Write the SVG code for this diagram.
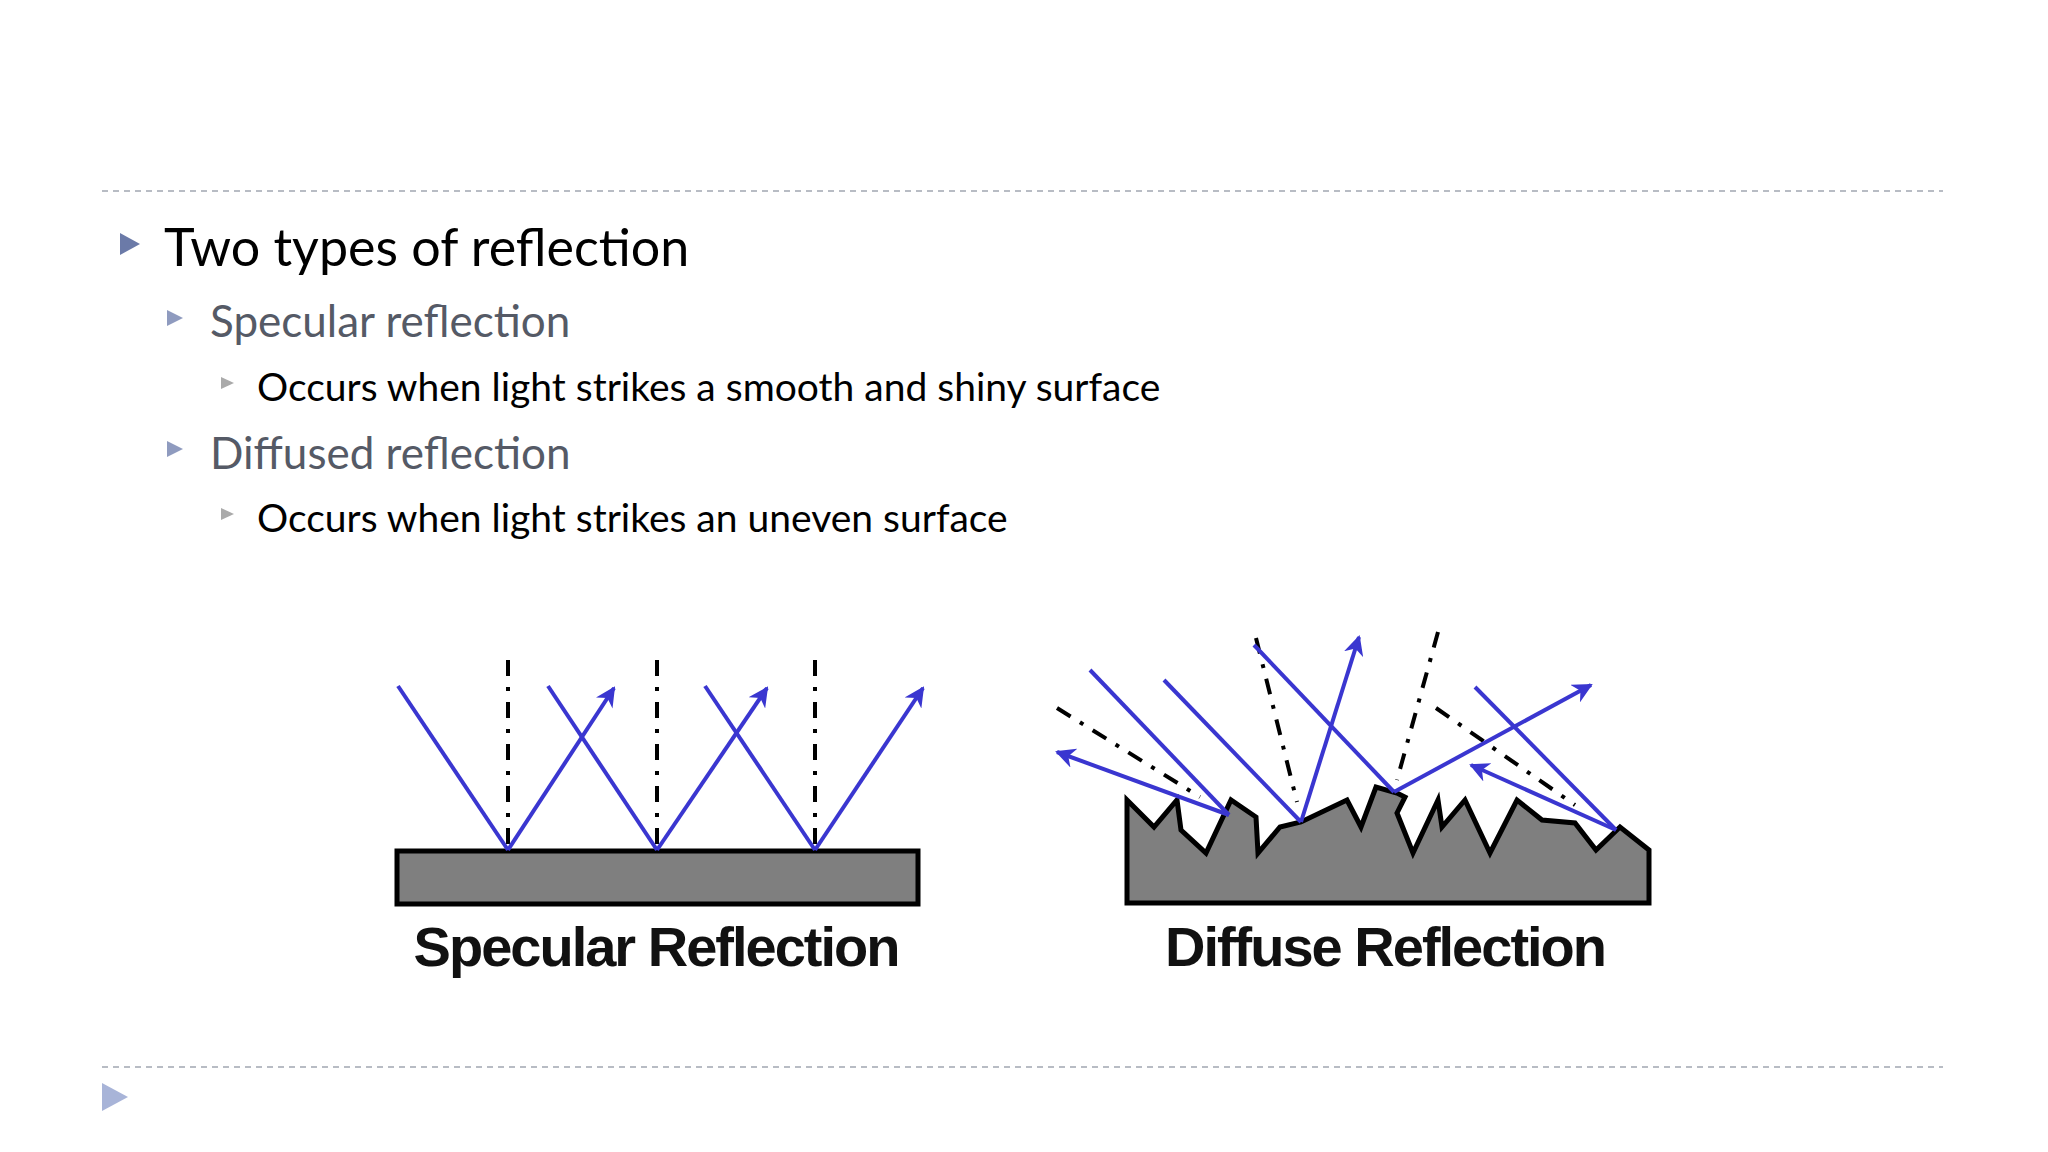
<svg xmlns="http://www.w3.org/2000/svg" width="2048" height="1152" viewBox="0 0 2048 1152">
<defs>
<style>
.sep{stroke:#b8bcc4;stroke-width:2;stroke-dasharray:6 5;fill:none}
.t{font-family:"Gill Sans","Lato","Open Sans",sans-serif}
.ray{stroke:#3a36d0;stroke-width:4;fill:none}
.nrm{stroke:#000;stroke-width:4;fill:none;stroke-dasharray:16 11 4 11}
.lbl{font-family:"Liberation Sans",Arial,sans-serif;font-weight:bold;font-size:56px;fill:#111;text-anchor:middle;letter-spacing:-2px}
</style>
<marker id="ah" viewBox="0 0 10 10" refX="9" refY="5" markerWidth="5" markerHeight="5" orient="auto" markerUnits="strokeWidth"><path d="M0,0 L10,5 L0,10 L3,5 z" fill="#3a36d0"/></marker>
</defs>
<rect width="2048" height="1152" fill="#fff"/>
<line class="sep" x1="102" y1="191" x2="1943" y2="191"/>
<line class="sep" x1="102" y1="1067" x2="1943" y2="1067"/>
<g id="bullets">
<path d="M120,233 L140,244 L120,255 z" fill="#6b7aa8"/>
<path d="M167,310 L183,318 L167,326 z" fill="#8f9bbf"/>
<path d="M167,441 L183,449 L167,457 z" fill="#8f9bbf"/>
<path d="M221,377 L234,383 L221,389 z" fill="#aaa"/>
<path d="M221,508 L234,514 L221,520 z" fill="#aaa"/>
<path d="M102,1083 L128,1097 L102,1111 z" fill="#a8b4d8"/>
</g>
<g id="text">
<text class="t" x="164" y="266" font-size="52" fill="#000">Two types of reflection</text>
<text class="t" x="210" y="337" font-size="44" fill="#555a66">Specular reflection</text>
<text class="t" x="257" y="401" font-size="39" fill="#000">Occurs when light strikes a smooth and shiny surface</text>
<text class="t" x="210" y="469" font-size="44" fill="#555a66">Diffused reflection</text>
<text class="t" x="257" y="532" font-size="39" fill="#000">Occurs when light strikes an uneven surface</text>
</g>
<g id="specular">
<rect x="397" y="851" width="521" height="53" fill="#7f7f7f" stroke="#000" stroke-width="5"/>
<g class="nrm-g">
<line class="nrm" x1="508" y1="660" x2="508" y2="850"/>
<line class="nrm" x1="657" y1="660" x2="657" y2="850"/>
<line class="nrm" x1="815" y1="660" x2="815" y2="850"/>
</g>
<polyline class="ray" points="398,686 508,850" />
<line class="ray" x1="508" y1="850" x2="614" y2="688" marker-end="url(#ah)"/>
<polyline class="ray" points="548,686 657,850" />
<line class="ray" x1="657" y1="850" x2="767" y2="688" marker-end="url(#ah)"/>
<polyline class="ray" points="705,686 815,850" />
<line class="ray" x1="815" y1="850" x2="923" y2="688" marker-end="url(#ah)"/>
<text class="lbl" x="656" y="966">Specular Reflection</text>
</g>
<g id="diffuse">
<polygon points="1127,903 1127,800 1154,827 1177,800 1181,830 1206,853 1231,800 1256,817 1258,853 1280,827 1301,822 1347,800 1361,827 1376,787 1397,793 1405,797 1397,813 1413,853 1438,800 1442,827 1465,800 1490,853 1517,800 1542,820 1575,823 1596,850 1620,827 1649,850 1649,903" fill="#7f7f7f" stroke="#000" stroke-width="5" stroke-linejoin="miter"/>
<line class="nrm" x1="1057" y1="708" x2="1200" y2="797"/>
<line class="nrm" x1="1256" y1="638" x2="1297" y2="802"/>
<line class="nrm" x1="1438" y1="632" x2="1397" y2="780"/>
<line class="nrm" x1="1436" y1="708" x2="1575" y2="805"/>
<line class="ray" x1="1090" y1="670" x2="1229" y2="815"/>
<line class="ray" x1="1229" y1="815" x2="1057" y2="752" marker-end="url(#ah)"/>
<line class="ray" x1="1164" y1="680" x2="1301" y2="822"/>
<line class="ray" x1="1301" y1="822" x2="1359" y2="637" marker-end="url(#ah)"/>
<line class="ray" x1="1254" y1="645" x2="1394" y2="792"/>
<line class="ray" x1="1394" y1="792" x2="1591" y2="685" marker-end="url(#ah)"/>
<line class="ray" x1="1475" y1="687" x2="1616" y2="830"/>
<line class="ray" x1="1616" y1="830" x2="1471" y2="765" marker-end="url(#ah)"/>
<text class="lbl" x="1385" y="966">Diffuse Reflection</text>
</g>
</svg>
